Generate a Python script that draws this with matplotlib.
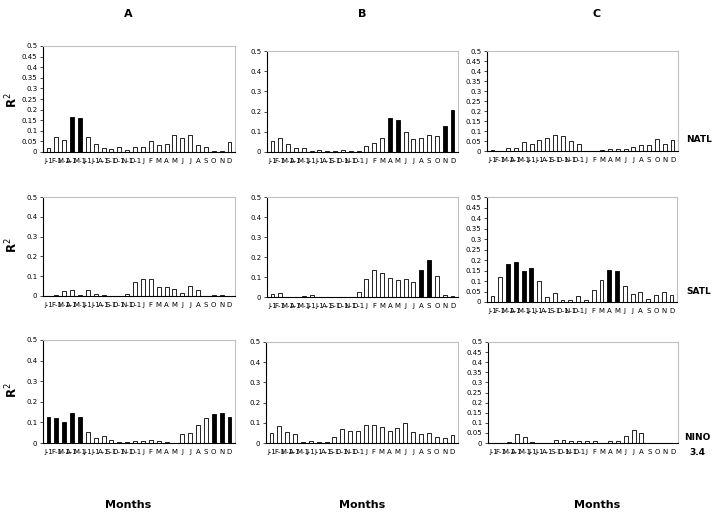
import matplotlib
matplotlib.use("Agg")
import matplotlib.pyplot as plt

months = ["J-1", "F-1", "M-1", "A-1", "M-1", "J-1", "J-1", "A-1", "S-1", "O-1", "N-1", "D-1",
          "J", "F", "M", "A", "M", "J", "J", "A", "S", "O", "N", "D"]
columns = ["A", "B", "C"]
rows = ["NATL", "SATL", "NINO\n3.4"]

natl_a = [0.02, 0.07, 0.055, 0.165, 0.16, 0.07, 0.04, 0.02, 0.015, 0.025, 0.008, 0.025,
          0.025, 0.05, 0.035, 0.04, 0.08, 0.065, 0.08, 0.035, 0.025, 0.005, 0.003, 0.045]
natl_b = [0.055, 0.07, 0.04, 0.02, 0.02, 0.005, 0.008, 0.003, 0.003, 0.008, 0.003, 0.003,
          0.028, 0.045, 0.07, 0.167, 0.16, 0.10, 0.066, 0.068, 0.085, 0.08, 0.13, 0.21]
natl_c = [0.003, 0.002, 0.013, 0.016, 0.047, 0.033, 0.054, 0.064, 0.08, 0.074, 0.05, 0.034,
          0.002, 0.002, 0.005, 0.008, 0.01, 0.008, 0.02, 0.03, 0.032, 0.059, 0.035, 0.054]
satl_a = [0.002, 0.005, 0.027, 0.03, 0.005, 0.03, 0.012, 0.003, 0.002, 0.0, 0.01, 0.072,
          0.084, 0.084, 0.047, 0.047, 0.034, 0.015, 0.05, 0.03, 0.002, 0.005, 0.003, 0.002]
satl_b = [0.017, 0.02, 0.002, 0.002, 0.004, 0.01, 0.002, 0.002, 0.002, 0.002, 0.002, 0.025,
          0.09, 0.137, 0.12, 0.095, 0.085, 0.09, 0.075, 0.135, 0.185, 0.105, 0.012, 0.004]
satl_c = [0.029, 0.117, 0.181, 0.19, 0.146, 0.16, 0.1, 0.025, 0.044, 0.008, 0.008, 0.027,
          0.008, 0.055, 0.105, 0.151, 0.146, 0.078, 0.037, 0.046, 0.015, 0.035, 0.05, 0.035]
nino_a = [0.126, 0.12, 0.103, 0.145, 0.127, 0.053, 0.025, 0.034, 0.015, 0.005, 0.005, 0.01,
          0.01, 0.013, 0.008, 0.003, 0.002, 0.045, 0.047, 0.085, 0.12, 0.14, 0.145, 0.124]
nino_b = [0.05, 0.083, 0.054, 0.045, 0.005, 0.008, 0.003, 0.005, 0.031, 0.071, 0.061, 0.061,
          0.089, 0.089, 0.079, 0.06, 0.073, 0.099, 0.055, 0.045, 0.05, 0.03, 0.025, 0.038]
nino_c = [0.002, 0.002, 0.003, 0.046, 0.031, 0.003, 0.0, 0.002, 0.015, 0.013, 0.008, 0.01,
          0.01, 0.01, 0.002, 0.012, 0.01, 0.033, 0.062, 0.05, 0.002, 0.002, 0.002, 0.002]

sig_natl_a = [3, 4]
sig_natl_b = [15, 16, 22, 23]
sig_natl_c = []
sig_satl_a = []
sig_satl_b = [19, 20]
sig_satl_c = [2, 3, 4, 5, 15, 16]
sig_nino_a = [0, 1, 2, 3, 4, 21, 22, 23]
sig_nino_b = []
sig_nino_c = []

data = [[natl_a, natl_b, natl_c], [satl_a, satl_b, satl_c], [nino_a, nino_b, nino_c]]
sigs = [[sig_natl_a, sig_natl_b, sig_natl_c], [sig_satl_a, sig_satl_b, sig_satl_c],
        [sig_nino_a, sig_nino_b, sig_nino_c]]
fine_ticks = [[True, False, True], [False, False, True], [False, False, True]]

# panel boxes in pixels (left, top, right, bottom)
boxes = [[(43, 46, 235, 152), (267, 51, 458, 152), (487, 51, 678, 151)],
         [(43, 197, 235, 296), (267, 197, 458, 297), (487, 197, 677, 302)],
         [(43, 340, 235, 443), (266, 342, 458, 443), (488, 342, 678, 443)]]

W, H = 713, 517
fig = plt.figure(figsize=(W / 100, H / 100), dpi=100)
narrow = ["Liberation Sans Narrow", "DejaVu Sans"]

for r in range(3):
    for c in range(3):
        l, t, rr, b = boxes[r][c]
        ax = fig.add_axes([l / W, 1 - b / H, (rr - l) / W, (b - t) / H])
        vals = data[r][c]
        colors = ["black" if i in sigs[r][c] else "white" for i in range(len(vals))]
        ax.bar(range(len(vals)), vals, width=0.5, color=colors, edgecolor="black", linewidth=0.6)
        ax.set_xlim(-0.7, len(vals) - 0.3)
        ax.set_ylim(0, 0.5)
        if fine_ticks[r][c]:
            ticks = [i * 0.05 for i in range(11)]
            labels = ["0", "0.05", "0.1", "0.15", "0.2", "0.25", "0.3", "0.35", "0.4", "0.45", "0.5"]
        else:
            ticks = [i * 0.1 for i in range(6)]
            labels = ["0", "0.1", "0.2", "0.3", "0.4", "0.5"]
        ax.set_yticks(ticks)
        ax.set_yticklabels(labels, family=narrow, fontsize=5)
        ax.set_xticks(range(len(vals)))
        ax.set_xticklabels(months, family=narrow, fontsize=5)
        ax.tick_params(axis="x", length=0, pad=4)
        ax.tick_params(axis="y", length=2, width=0.5, pad=2)
        for s in ["top", "right"]:
            ax.spines[s].set_color("#c0c0c0")
            ax.spines[s].set_linewidth(0.8)
        for s in ["left", "bottom"]:
            ax.spines[s].set_color("black")
            ax.spines[s].set_linewidth(0.8)

# column titles
for c, x in zip(columns, [128, 362, 597]):
    fig.text(x / W, 1 - 14 / H, c, ha="center", va="center", fontsize=8, fontweight="bold")
# Months
for x in [128, 362, 597]:
    fig.text(x / W, 1 - 505 / H, "Months", ha="center", va="center", fontsize=8, fontweight="bold")
# R^2 labels
for y in [100, 245, 390]:
    fig.text(12 / W, 1 - y / H, "R$^2$", ha="center", va="center", fontsize=8.5,
             fontweight="bold", rotation=90)
# row labels
fig.text(686 / W, 1 - 140 / H, "NATL", ha="left", va="center", fontsize=6.5, fontweight="bold")
fig.text(686 / W, 1 - 292 / H, "SATL", ha="left", va="center", fontsize=6.5, fontweight="bold")
fig.text(697 / W, 1 - 445 / H, "NINO\n3.4", ha="center", va="center", fontsize=6.5,
         fontweight="bold", linespacing=1.8)

fig.savefig("out.png", dpi=100)
